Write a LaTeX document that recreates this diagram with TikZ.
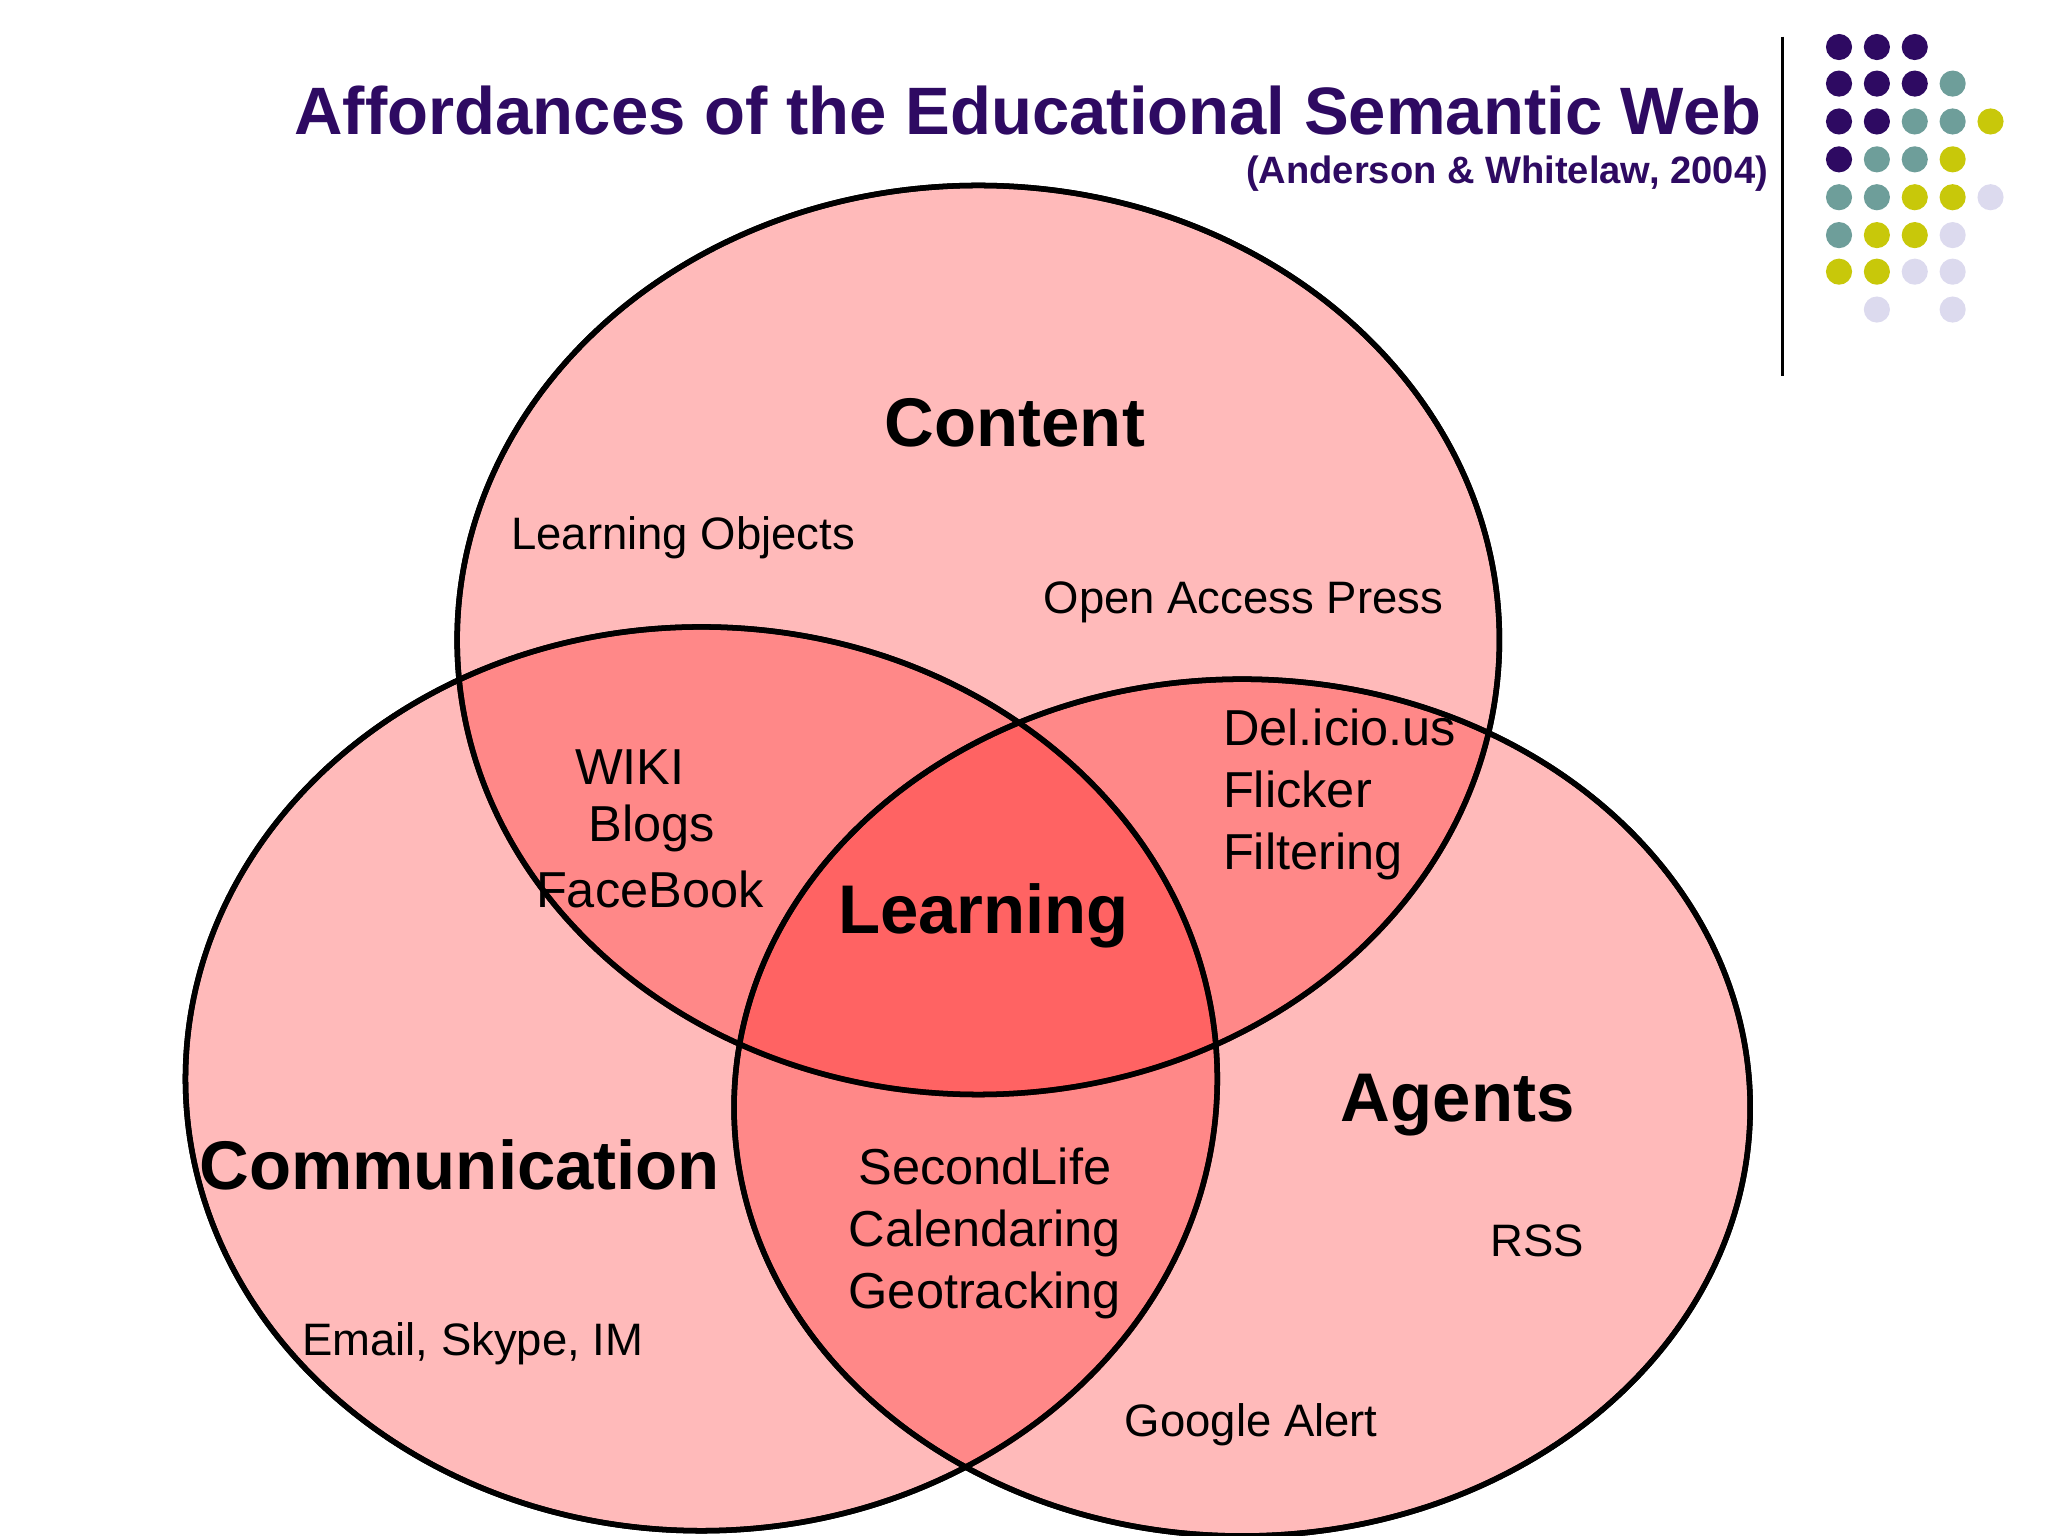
\documentclass[tikz,border=0pt]{standalone}
\usepackage{fontspec}
\setmainfont{Liberation Sans}
\definecolor{dpur}{HTML}{2E0A62}
\definecolor{dteal}{HTML}{6E9E9A}
\definecolor{dyel}{HTML}{C8C80A}
\definecolor{dlav}{HTML}{DCDAEE}
\begin{document}
\begin{tikzpicture}[x=0.01cm,y=-0.01cm,
 set/.style={draw=black,line width=1.2pt,fill=red,fill opacity=0.27},
 big/.style={font=\fontsize{15}{18}\selectfont\bfseries},
 mid/.style={font=\fontsize{11}{13.5}\selectfont,align=left},
 sml/.style={font=\fontsize{9.9}{11}\selectfont},
 dot/.style={circle,inner sep=0pt,minimum size=0.2cm}]
\useasboundingbox (0,0) rectangle (1568,1176);
\fill[set] (749,490) ellipse [x radius=399,y radius=348];
\fill[set] (537,826) ellipse [x radius=395,y radius=346];
\fill[set] (951,848) ellipse [x radius=389,y radius=328];
\draw[line width=1.2pt] (749,490) ellipse [x radius=399,y radius=348];
\draw[line width=1.2pt] (537,826) ellipse [x radius=395,y radius=346];
\draw[line width=1.2pt] (951,848) ellipse [x radius=389,y radius=328];
\node[text=dpur,font=\fontsize{14.6}{18}\selectfont\bfseries] (title) at (787,85) {Affordances of the Educational Semantic Web};
\node[text=dpur,font=\fontsize{8.3}{10}\selectfont\bfseries,anchor=east] (sub) at (1366,133) {(Anderson \& Whitelaw, 2004)};
\draw[line width=0.6pt] (1365,28) -- (1365,288);
\foreach \r/\row in {36/{1/dpur,2/dpur,3/dpur},64/{1/dpur,2/dpur,3/dpur,4/dteal},93/{1/dpur,2/dpur,3/dteal,4/dteal,5/dyel},122/{1/dpur,2/dteal,3/dteal,4/dyel},151/{1/dteal,2/dteal,3/dyel,4/dyel,5/dlav},180/{1/dteal,2/dyel,3/dyel,4/dlav},208/{1/dyel,2/dyel,3/dlav,4/dlav},237/{2/dlav,4/dlav}}
 \foreach \c/\col in \row \node[dot,fill=\col] at ({1379+29*\c},\r) {};
\node[big] (content) at (777,324) {Content};
\node[big] (comm) at (352,892) {Communication};
\node[big] (agents) at (1116,846) {Agents};
\node[big] (learn) at (753,701) {Learning};
\node[sml] (lo) at (523,412) {Learning Objects};
\node[sml] (oap) at (952,461) {Open Access Press};
\node[sml] (email) at (362,1029) {Email, Skype, IM};
\node[sml] (rss) at (1177,950) {RSS};
\node[sml] (ga) at (958,1091) {Google Alert};
\node[mid,anchor=west] (wiki) at (428,587) {WIKI};
\node[mid,anchor=west] (blogs) at (438,634) {Blogs};
\node[mid,anchor=west] (fb) at (398,681) {FaceBook};
\node[mid,anchor=west] (del) at (924,608) {Del.icio.us\\Flicker\\Filtering};
\node[mid,align=center] (sl) at (754,944) {SecondLife\\Calendaring\\Geotracking};
\end{tikzpicture}
\end{document}
